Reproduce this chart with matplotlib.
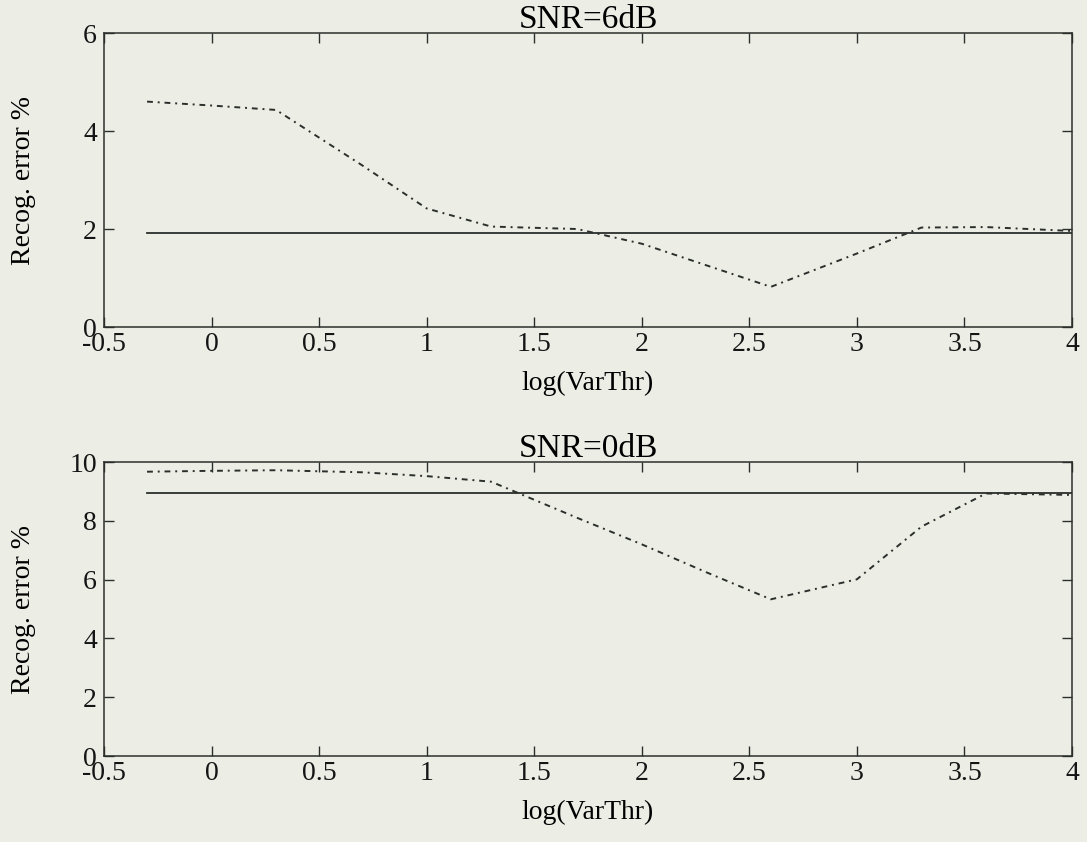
import numpy as np
import matplotlib
matplotlib.use('Agg')
import matplotlib.pyplot as plt

# log10 of the variance threshold
log_thr = [-0.3, 0.0, 0.3, 0.7, 1.0, 1.3, 1.7, 2.0, 2.3, 2.6, 3.0, 3.3, 3.6, 4.0]

# recognition error (%) vs threshold, plus baseline without thresholding
err_6db  = [4.60, 4.52, 4.43, 3.30, 2.42, 2.05, 2.00, 1.70, 1.26, 0.82, 1.50, 2.03, 2.04, 1.96]
base_6db = 1.92
err_0db  = [9.67, 9.70, 9.72, 9.65, 9.52, 9.33, 8.10, 7.20, 6.25, 5.33, 6.01, 7.80, 8.93, 8.88]
base_0db = 8.93

panels = [
    ('SNR=6dB', err_6db, base_6db, (0, 6), [0, 2, 4, 6]),
    ('SNR=0dB', err_0db, base_0db, (0, 10), [0, 2, 4, 6, 8, 10]),
]

BG = '#eceee6'
INK = '#2b2f2b'

plt.rcParams['font.family'] = ['Liberation Serif', 'DejaVu Serif']
plt.rcParams['font.size'] = 20

fig = plt.figure(figsize=(10.87, 8.42), dpi=100, facecolor=BG)
rects = [[0.0957, 0.6116, 0.8905, 0.3492],
         [0.0957, 0.1021, 0.8905, 0.3492]]

for rect, (title, err, base, ylim, yticks) in zip(rects, panels):
    ax = fig.add_axes(rect)
    ax.set_facecolor(BG)
    ax.plot([log_thr[0], log_thr[-1]], [base, base], color=INK, lw=1.3)
    ax.plot(log_thr, err, color=INK, lw=1.4, ls=(0, (3, 2.5, 1, 2.5)))

    ax.set_xlim(-0.5, 4)
    ax.set_ylim(*ylim)
    ax.set_xticks([-0.5, 0, 0.5, 1, 1.5, 2, 2.5, 3, 3.5, 4])
    ax.set_xticklabels(['-0.5', '0', '0.5', '1', '1.5', '2', '2.5', '3', '3.5', '4'])
    ax.set_yticks(yticks)
    ax.tick_params(direction='in', length=7, width=1.0, color=INK,
                   top=True, right=True, labelcolor='#151515')
    ax.tick_params(axis='x', pad=3.5)
    ax.tick_params(axis='y', pad=5)
    for sp in ax.spines.values():
        sp.set_color(INK)
        sp.set_linewidth(1.1)

    ax.set_title(title, pad=3.6)
    ax.set_xlabel('log(VarThr)', labelpad=10)
    ax.set_ylabel('Recog. error %')
    ax.yaxis.set_label_coords(-0.070, 0.5)

fig.savefig('out.png', dpi=100, facecolor=BG)
